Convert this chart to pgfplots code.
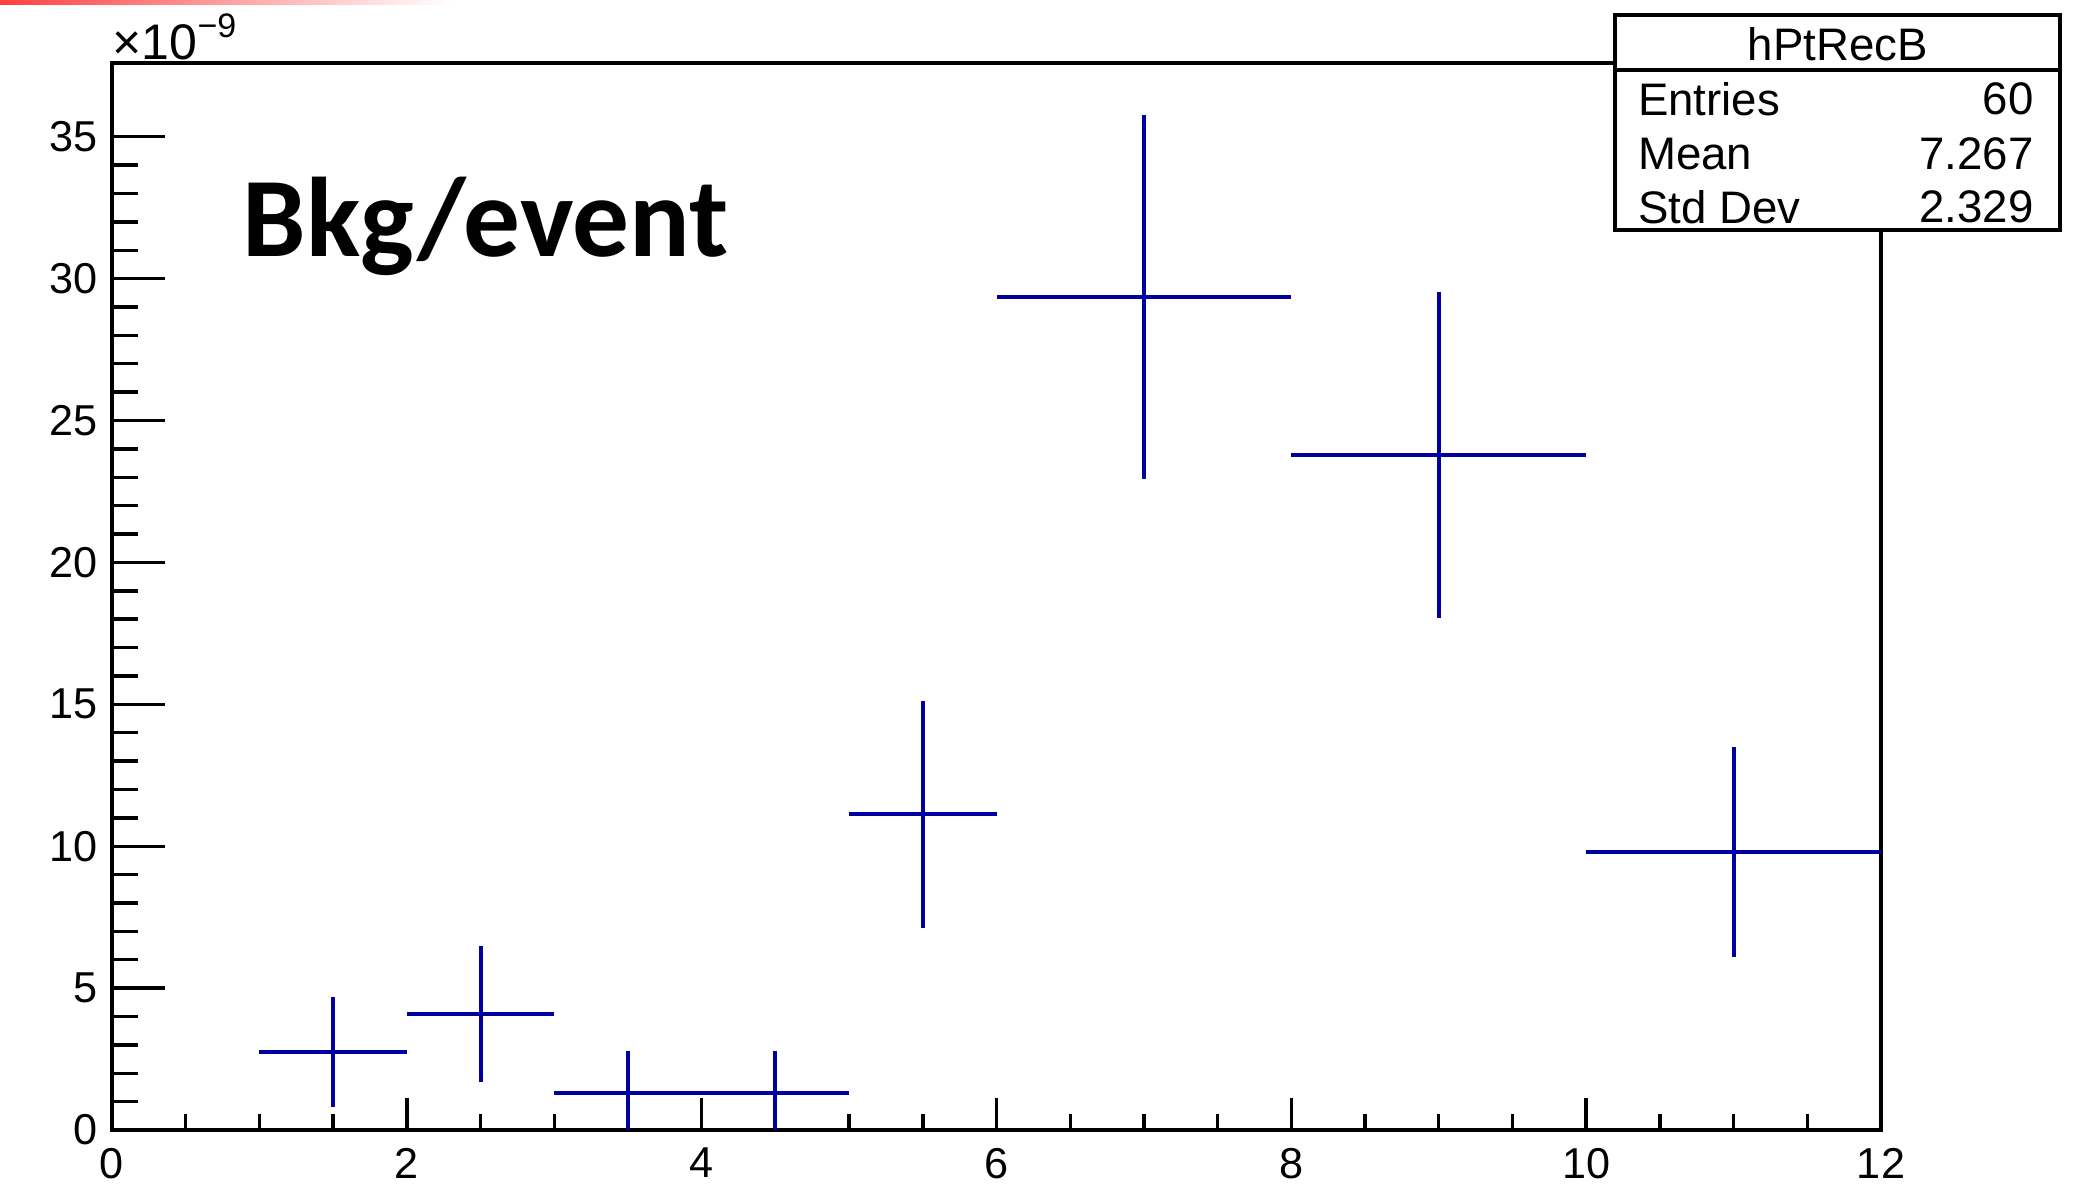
\documentclass[border=0pt]{standalone}
\usepackage{fontspec}
\setmainfont{Liberation Sans}
\newfontfamily\calib{Carlito}
\usepackage{pgfplots}
\pgfplotsset{compat=1.18}
\definecolor{rootblue}{RGB}{0,0,160}
\begin{document}
\begin{tikzpicture}
\path[use as bounding box] (-28pt,-13.75pt) rectangle (496pt,282.5pt);
\shade[left color=red!75, right color=white] (-28pt,281.3pt) rectangle (85pt,282.5pt);
% main axis: frame, x ticks, data
\begin{axis}[
  at={(0,0)}, anchor=south west, scale only axis,
  width=442.25pt, height=266.75pt,
  xmin=0, xmax=12, ymin=0, ymax=37.6,
  xtick={0,2,...,12}, minor x tick num=3,
  ytick=\empty,
  tick align=inside, xtick pos=bottom,
  major tick length=8pt, minor tick length=4pt,
  axis line style={line width=0.85pt},
  every tick/.style={black, line width=0.85pt},
  tick label style={font=\fontsize{10.8}{12}\selectfont},
  /pgf/number format/assume math mode=true,
  xticklabel style={yshift=-1pt},
]
\addplot[draw=none, mark=none,
  error bars/.cd, x dir=both, x explicit, y dir=both, y explicit,
  error mark=none, error bar style={draw=rootblue, line width=1pt, solid}]
  table[x=x, y=y, x error=ex, y error=ey] {
x    y     ex   ey
1.5  2.75  0.5  1.95
2.5  4.10  0.5  2.40
3.5  1.32  0.5  1.45
4.5  1.32  0.5  1.45
5.5  11.12 0.5  4.00
7.0  29.35 1.0  6.40
9.0  23.79 1.0  5.75
11.0 9.80  1.0  3.70
};
\end{axis}
% overlay axis for y ticks
\begin{axis}[
  at={(0,0)}, anchor=south west, scale only axis,
  width=442.25pt, height=266.75pt,
  xmin=0, xmax=12, ymin=0, ymax=37.6,
  hide x axis, axis y line*=left,
  ytick={0,5,...,35}, minor y tick num=4,
  tick align=inside,
  major tick length=13.25pt, minor tick length=6.6pt,
  axis line style={line width=0.85pt, -},
  every tick/.style={black, line width=0.85pt},
  tick label style={font=\fontsize{10.8}{12}\selectfont},
  /pgf/number format/assume math mode=true,
]
\addplot[draw=none] coordinates {(0,0)};
\end{axis}
\node[anchor=base west, inner sep=0pt, font=\fontsize{12.5}{14}\selectfont] at (0pt,267.5pt) {×10\raisebox{5.5pt}{\fontsize{8.5}{9}\selectfont −9}};
\node[anchor=base west, inner sep=0pt, font=\calib\bfseries\fontsize{28.3}{30}\selectfont] at (32.5pt,218.3pt) {Bkg/event};
% stat box
\draw[line width=0.8pt, fill=white] (375.75pt,225pt) rectangle (487pt,278.75pt);
\draw[line width=0.8pt] (375.75pt,265pt) -- (487pt,265pt);
\begin{scope}[every node/.style={inner sep=0pt, font=\fontsize{11.4}{12}\selectfont}]
\node[anchor=center] at (431.4pt,271.4pt) {hPtRecB};
\node[anchor=west] at (381.3pt,257.75pt) {Entries};
\node[anchor=east] at (480.6pt,257.75pt) {60};
\node[anchor=west] at (381.3pt,244.1pt) {Mean};
\node[anchor=east] at (480.6pt,244.1pt) {7.267};
\node[anchor=west] at (381.3pt,230.7pt) {Std Dev};
\node[anchor=east] at (480.6pt,230.7pt) {2.329};
\end{scope}
\end{tikzpicture}
\end{document}
